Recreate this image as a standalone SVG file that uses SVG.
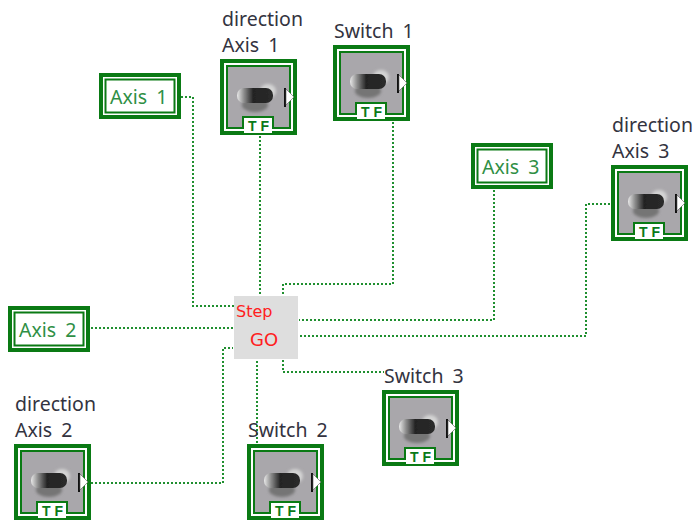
<svg xmlns="http://www.w3.org/2000/svg" width="694" height="521" viewBox="0 0 694 521">
<style>
.wire{fill:none;stroke:#1f8f2f;stroke-width:2;stroke-dasharray:2 2}
.cap{font-family:"Noto Sans","DejaVu Sans",sans-serif;font-size:19.500px;word-spacing:4px;fill:#333340}
.val{font-family:"Noto Sans","DejaVu Sans",sans-serif;font-size:19.500px;word-spacing:4px;fill:#2f8f45}
.red{font-family:"DejaVu Sans","Noto Sans",sans-serif;fill:#ff2020}
.tf{font-family:"Liberation Sans",Arial,sans-serif;font-size:14px;font-weight:bold;fill:#0a7a1a;letter-spacing:4px}
</style>
<defs>
<linearGradient id="knob" x1="0" x2="1" y1="0" y2="0"><stop offset="0" stop-color="#e8e8e8"/><stop offset="0.2" stop-color="#8a8a8a"/><stop offset="0.45" stop-color="#242424"/><stop offset="1" stop-color="#2a2a2a"/></linearGradient>
<filter id="soft" x="-20%" y="-20%" width="140%" height="140%"><feGaussianBlur stdDeviation="1.500"/></filter>
<filter id="softer" x="-10%" y="-20%" width="120%" height="140%"><feGaussianBlur stdDeviation="0.600"/></filter>
<g id="toggle">
<rect x="2" y="2" width="73" height="72" fill="#fff" stroke="#0a7a14" stroke-width="4"/>
<rect x="7" y="7" width="63" height="62" fill="#a9a7ab" stroke="#0a7a14" stroke-width="2"/>
<g filter="url(#soft)">
<ellipse cx="35" cy="46" rx="13" ry="7" fill="#747474"/>
<ellipse cx="48" cy="32" rx="8" ry="7" fill="#d4d4d4"/>
</g>
<rect x="17" y="29" width="36" height="15" rx="7" fill="url(#knob)" filter="url(#softer)"/>
<path d="M65 29v19" stroke="#111" stroke-width="2"/>
<path d="M66 30l8 8-8 8z" fill="#fff" stroke="#555" stroke-width="0.600"/>
<path d="M23 69v-11h30v11" fill="#fff" stroke="#0a7a14" stroke-width="2"/>
<rect x="24" y="60" width="28" height="14" fill="#fff"/>
<text x="28" y="72" class="tf">TF</text>
</g>
<g id="label">
<rect x="2" y="2" width="78" height="42" fill="#fff" stroke="#0a7a14" stroke-width="4"/>
<rect x="6.500" y="6.500" width="69" height="33" fill="#fff" stroke="#0a7a14" stroke-width="2"/>
</g>
</defs>
<rect width="694" height="521" fill="#fff"/>
<g id="connectors">
<path class="wire" d="M181 97H193V306H235"/>
<path class="wire" d="M260 136V295"/>
<path class="wire" d="M393 122V284H283V295"/>
<path class="wire" d="M91 328H233"/>
<path class="wire" d="M494 190V320H299"/>
<path class="wire" d="M610 204H586V336H299"/>
<path class="wire" d="M283 360V372H384"/>
<path class="wire" d="M257 361V444"/>
<path class="wire" d="M91 483H223V348H233"/>
</g>
<g id="step-go">
<rect x="234" y="296" width="64" height="63" fill="#dedede"/>
<text x="236" y="317" class="red" font-size="16">Step</text>
<text x="250" y="346" class="red" font-size="18">GO</text>
</g>
<g id="axis-1"><use href="#label" x="99" y="73"/><text x="110" y="104" class="val">Axis 1</text></g>
<g id="axis-2"><use href="#label" x="8" y="306"/><text x="19" y="337" class="val">Axis 2</text></g>
<g id="axis-3"><use href="#label" x="471" y="143"/><text x="482" y="174" class="val">Axis 3</text></g>
<g id="direction-axis-1"><use href="#toggle" x="220" y="59"/><text x="222" y="26" class="cap">direction</text><text x="222" y="52" class="cap">Axis 1</text></g>
<g id="switch-1"><use href="#toggle" x="333" y="45"/><text x="334" y="38" class="cap">Switch 1</text></g>
<g id="direction-axis-3"><use href="#toggle" x="611" y="165"/><text x="612" y="132" class="cap">direction</text><text x="612" y="158" class="cap">Axis 3</text></g>
<g id="switch-3"><use href="#toggle" x="382" y="390"/><text x="384" y="383" class="cap">Switch 3</text></g>
<g id="direction-axis-2"><use href="#toggle" x="14" y="444"/><text x="15" y="411" class="cap">direction</text><text x="15" y="437" class="cap">Axis 2</text></g>
<g id="switch-2"><use href="#toggle" x="247" y="444"/><text x="248" y="437" class="cap">Switch 2</text></g>
</svg>
